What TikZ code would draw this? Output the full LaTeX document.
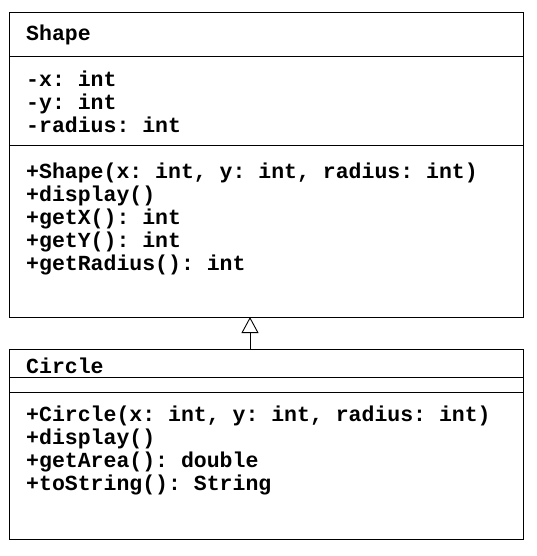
\documentclass[tikz,border=0pt]{standalone}
\usepackage{fontspec}
\setmonofont{Liberation Mono}
\usepackage{tikz}
\usetikzlibrary{positioning,arrows.meta}

\tikzset{
	part/.style={draw, line width=1pt, minimum width=514pt, inner sep=0pt, outer sep=0pt},
	txt/.style={inner sep=0pt, align=left, font=\ttfamily\bfseries\fontsize{21.5}{23}\selectfont},
	inherit/.style={line width=0.9pt, -{Triangle[open, length=16pt, width=17pt]}}
}

\begin{document}
\begin{tikzpicture}[x=1pt, y=-1pt]
		\useasboundingbox (0,0) rectangle (536,556);
		
		% class Shape
		\node[part, minimum height=43.5pt, anchor=north west] (shapeTitle) at (9,13) {};
		\node[part, minimum height=89.5pt, below=0pt of shapeTitle] (shapeAttr) {};
		\node[part, minimum height=171pt, below=0pt of shapeAttr] (shapeOps) {};
		
		% base of a text block is its last line
		\node[txt, anchor=base west] (shapeName) at (26,41) {Shape};
		\node[txt, anchor=base west] (shapeVars) at (26,133) {-x: int\\-y: int\\-radius: int};
		\node[txt, anchor=base west] (shapeMeth) at (26,270) {+Shape(x: int, y: int, radius: int)\\+display()\\+getX(): int\\+getY(): int\\+getRadius(): int};
		
		% class Circle
		\node[part, minimum height=28.7pt, anchor=north west] (circTitle) at (9,349) {};
		\node[part, minimum height=14.6pt, below=0pt of circTitle] (circAttr) {};
		\node[part, minimum height=146.7pt, below=0pt of circAttr] (circOps) {};
		
		\node[txt, anchor=base west] (circName) at (26,373) {Circle};
		\node[txt, anchor=base west] (circMeth) at (26,490) {+Circle(x: int, y: int, radius: int)\\+display()\\+getArea(): double\\+toString(): String};
		
		\draw[inherit] (circTitle.north -| 250,0) -- (shapeOps.south -| 250,0);
		
		\end{tikzpicture}
\end{document}
